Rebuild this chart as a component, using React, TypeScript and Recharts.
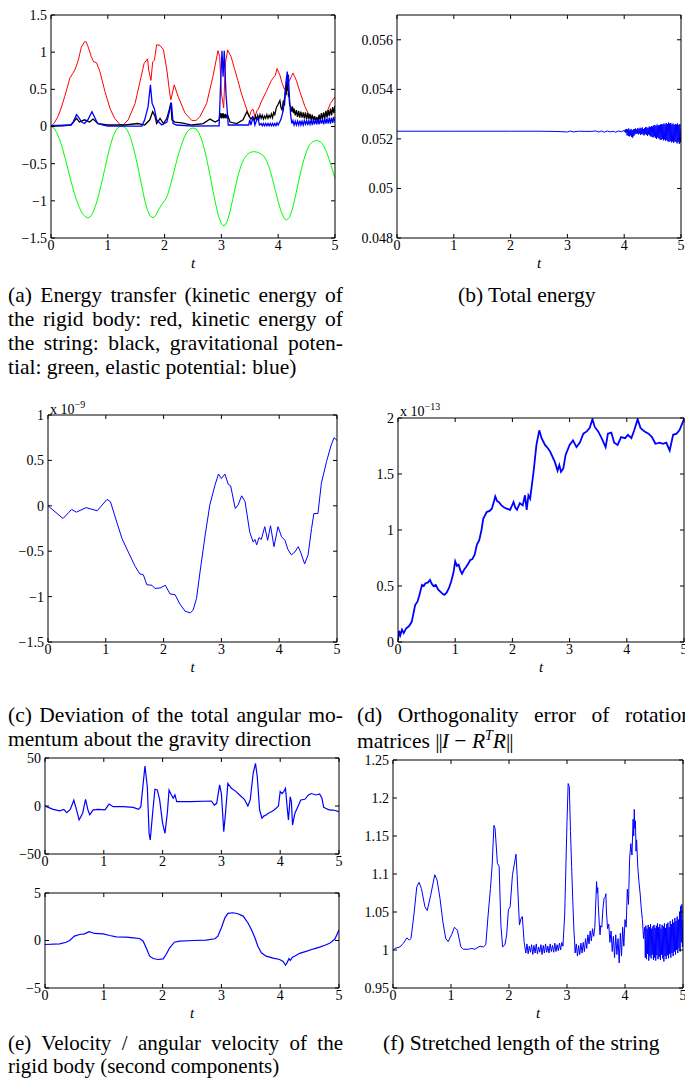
import { LineChart, Line, XAxis, YAxis } from "recharts";

const FONT = "'Liberation Serif', 'Times New Roman', serif";
const BLUE = "#0000ff";

const T_TICKS = [0, 1, 2, 3, 4, 5];

// (a) energy transfer
const aGreenT = [0, 0.05, 0.1, 0.15, 0.2, 0.25, 0.3, 0.35, 0.4, 0.45, 0.5, 0.55, 0.6, 0.65, 0.7, 0.75, 0.8, 0.85, 0.9, 0.95, 1.0, 1.05, 1.1, 1.15, 1.2, 1.25, 1.3, 1.35, 1.4, 1.45, 1.5, 1.55, 1.6, 1.65, 1.7, 1.75, 1.8, 1.85, 1.9, 1.95, 2.0, 2.05, 2.1, 2.15, 2.2, 2.25, 2.3, 2.35, 2.4, 2.45, 2.5, 2.55, 2.6, 2.65, 2.7, 2.75, 2.8, 2.85, 2.9, 2.95, 3.0, 3.05, 3.1, 3.15, 3.2, 3.25, 3.3, 3.35, 3.4, 3.45, 3.5, 3.55, 3.6, 3.65, 3.7, 3.75, 3.8, 3.85, 3.9, 3.95, 4.0, 4.05, 4.1, 4.15, 4.2, 4.25, 4.3, 4.35, 4.4, 4.45, 4.5, 4.55, 4.6, 4.65, 4.7, 4.75, 4.8, 4.85, 4.9, 4.95, 5.0];
const aGreen = [0, -0.02, -0.08, -0.17, -0.29, -0.43, -0.58, -0.73, -0.87, -0.99, -1.09, -1.17, -1.21, -1.23, -1.21, -1.14, -1.03, -0.89, -0.73, -0.56, -0.39, -0.24, -0.12, -0.04, -0.005, 0, -0.01, -0.06, -0.15, -0.28, -0.44, -0.62, -0.81, -0.99, -1.13, -1.21, -1.23, -1.19, -1.11, -1.05, -1.0, -0.93, -0.8, -0.65, -0.5, -0.36, -0.24, -0.14, -0.07, -0.03, -0.02, -0.03, -0.08, -0.17, -0.3, -0.47, -0.66, -0.86, -1.05, -1.21, -1.31, -1.34, -1.28, -1.15, -0.98, -0.8, -0.64, -0.52, -0.43, -0.38, -0.35, -0.34, -0.34, -0.35, -0.37, -0.4, -0.47, -0.57, -0.71, -0.86, -1.01, -1.14, -1.23, -1.26, -1.22, -1.11, -0.95, -0.77, -0.6, -0.45, -0.33, -0.25, -0.21, -0.19, -0.19, -0.21, -0.26, -0.34, -0.45, -0.57, -0.7];

const aRedT = [0, 0.06, 0.12, 0.18, 0.24, 0.3, 0.33, 0.38, 0.42, 0.48, 0.535, 0.59, 0.62, 0.65, 0.71, 0.75, 0.8, 0.86, 0.95, 1.04, 1.12, 1.21, 1.27, 1.36, 1.48, 1.56, 1.64, 1.7, 1.72, 1.76, 1.79, 1.82, 1.86, 1.92, 1.98, 2.04, 2.09, 2.11, 2.17, 2.24, 2.36, 2.48, 2.55, 2.62, 2.74, 2.85, 2.94, 2.97, 3.0, 3.04, 3.07, 3.11, 3.17, 3.23, 3.29, 3.35, 3.41, 3.46, 3.49, 3.53, 3.56, 3.59, 3.63, 3.65, 3.7, 3.79, 3.88, 3.95, 3.98, 4.03, 4.07, 4.11, 4.15, 4.2, 4.26, 4.32, 4.38, 4.47, 4.55, 4.67, 4.76, 4.85, 4.92, 5.0];
const aRed = [0, 0.05, 0.13, 0.25, 0.4, 0.56, 0.65, 0.71, 0.76, 0.89, 1.07, 1.14, 1.14, 1.08, 0.94, 0.87, 0.86, 0.74, 0.47, 0.24, 0.11, 0.03, 0.02, 0.09, 0.31, 0.58, 0.85, 0.91, 0.76, 0.62, 0.87, 0.89, 1.1, 1.09, 1.03, 0.76, 0.45, 0.36, 0.56, 0.4, 0.18, 0.08, 0.08, 0.13, 0.31, 0.67, 1.02, 0.94, 0.45, 0.25, 0.85, 1.03, 0.94, 0.78, 0.62, 0.45, 0.31, 0.2, 0.13, 0.22, 0.23, 0.13, 0.22, 0.23, 0.33, 0.47, 0.62, 0.69, 0.78, 0.69, 0.58, 0.5, 0.55, 0.62, 0.72, 0.62, 0.47, 0.27, 0.14, 0.11, 0.11, 0.18, 0.31, 0.4];

const aBlackT = [0, 0.2, 0.35, 0.45, 0.5, 0.59, 0.68, 0.74, 0.83, 1.0, 1.3, 1.53, 1.65, 1.74, 1.79, 1.83, 1.86, 1.92, 1.98, 2.04, 2.08, 2.11, 2.13, 2.18, 2.3, 2.48, 2.68, 2.8, 2.89, 2.96, 2.97, 2.98, 2.99, 3.0, 3.01, 3.02, 3.03, 3.04, 3.05, 3.06, 3.07, 3.08, 3.09, 3.1, 3.11, 3.12, 3.15, 3.27, 3.38, 3.45, 3.48, 3.52, 3.55, 3.58, 3.6, 3.62, 3.64, 3.66, 3.68, 3.7, 3.72, 3.74, 3.76, 3.78, 3.8, 3.82, 3.84, 3.86, 3.88, 3.9, 3.92, 3.94, 3.97, 4.0, 4.03, 4.05, 4.07, 4.09, 4.11, 4.13, 4.14, 4.15, 4.16, 4.17, 4.18, 4.19, 4.2, 4.22, 4.24, 4.25, 4.27, 4.28, 4.3, 4.32, 4.34, 4.36, 4.38, 4.4, 4.42, 4.44, 4.46, 4.48, 4.5, 4.52, 4.54, 4.56, 4.58, 4.6, 4.62, 4.64, 4.66, 4.68, 4.7, 4.72, 4.74, 4.76, 4.78, 4.8, 4.82, 4.84, 4.86, 4.88, 4.9, 4.92, 4.94, 4.96, 4.98, 5.0];
const aBlack = [0.005, 0.01, 0.02, 0.11, 0.06, 0.09, 0.06, 0.1, 0.04, 0.02, 0.02, 0.04, 0.02, 0.09, 0.2, 0.14, 0.04, 0.11, 0.04, 0.11, 0.22, 0.32, 0.09, 0.06, 0.05, 0.02, 0.04, 0.1, 0.06, 0.09, 0.15, 0.12, 0.18, 0.11, 0.17, 0.12, 0.18, 0.11, 0.16, 0.12, 0.17, 0.11, 0.16, 0.12, 0.15, 0.13, 0.06, 0.04, 0.09, 0.2, 0.15, 0.1, 0.13, 0.08, 0.14, 0.09, 0.15, 0.1, 0.16, 0.11, 0.15, 0.1, 0.14, 0.11, 0.16, 0.11, 0.15, 0.12, 0.17, 0.12, 0.19, 0.16, 0.26, 0.3, 0.35, 0.25, 0.22, 0.35, 0.28, 0.5, 0.42, 0.62, 0.48, 0.6, 0.4, 0.45, 0.3, 0.26, 0.2, 0.27, 0.18, 0.24, 0.15, 0.22, 0.13, 0.21, 0.12, 0.2, 0.12, 0.19, 0.11, 0.19, 0.1, 0.18, 0.1, 0.17, 0.09, 0.16, 0.08, 0.14, 0.07, 0.13, 0.07, 0.16, 0.09, 0.18, 0.1, 0.19, 0.11, 0.21, 0.12, 0.22, 0.14, 0.24, 0.15, 0.26, 0.18, 0.28];

const aBlueT = [0, 0.35, 0.39, 0.45, 0.49, 0.54, 0.59, 0.65, 0.72, 0.77, 0.82, 0.92, 1.0, 1.6, 1.65, 1.71, 1.75, 1.78, 1.82, 1.86, 1.95, 2.04, 2.09, 2.12, 2.15, 2.21, 2.5, 2.96, 2.98, 3.01, 3.03, 3.05, 3.08, 3.12, 3.48, 3.5, 3.52, 3.56, 3.59, 3.64, 3.67, 3.7, 3.72, 3.74, 3.76, 3.78, 3.8, 3.82, 3.84, 3.86, 3.88, 3.9, 3.92, 3.94, 3.96, 3.98, 4.0, 4.02, 4.05, 4.09, 4.12, 4.14, 4.16, 4.17, 4.18, 4.2, 4.22, 4.24, 4.26, 4.28, 4.3, 4.32, 4.34, 4.36, 4.38, 4.4, 4.42, 4.44, 4.46, 4.48, 4.5, 4.52, 4.54, 4.56, 4.58, 4.6, 4.62, 4.64, 4.66, 4.68, 4.7, 4.72, 4.74, 4.76, 4.78, 4.8, 4.82, 4.84, 4.86, 4.88, 4.9, 4.92, 4.94, 4.96, 4.98, 5.0];
const aBlue = [0.01, 0.02, 0.06, 0.16, 0.12, 0.06, 0.04, 0.09, 0.2, 0.12, 0.04, 0.02, 0.005, 0.005, 0.09, 0.27, 0.56, 0.31, 0.24, 0.09, 0.02, 0.06, 0.22, 0.32, 0.04, 0.02, 0.005, 0.01, 0.45, 1.02, 0.67, 1.02, 0.45, 0.02, 0.02, 0.09, 0.02, 0.13, 0.02, 0.13, 0.02, 0.04, 0.01, 0.04, 0.01, 0.04, 0.01, 0.04, 0.01, 0.04, 0.01, 0.04, 0.01, 0.04, 0.01, 0.05, 0.02, 0.05, 0.1, 0.22, 0.45, 0.62, 0.74, 0.55, 0.7, 0.36, 0.15, 0.04, 0.08, 0.02, 0.07, 0.02, 0.07, 0.02, 0.08, 0.02, 0.07, 0.02, 0.08, 0.03, 0.08, 0.02, 0.08, 0.03, 0.09, 0.02, 0.09, 0.03, 0.09, 0.03, 0.1, 0.03, 0.1, 0.04, 0.1, 0.03, 0.11, 0.04, 0.11, 0.04, 0.12, 0.04, 0.12, 0.05, 0.13, 0.06];

// (b) total energy
const bT = [0, 1, 2, 2.5, 2.8, 3.0, 3.05, 3.1, 3.2, 3.4, 3.5, 3.55, 3.6, 3.65, 3.7, 3.75, 3.8, 3.85, 3.9, 3.95, 4.0, 4.01, 4.02, 4.03, 4.04, 4.05, 4.06, 4.07, 4.08, 4.09, 4.1, 4.11, 4.12, 4.13, 4.14, 4.15, 4.16, 4.17, 4.18, 4.19, 4.2, 4.21, 4.22, 4.23, 4.24, 4.25, 4.26, 4.27, 4.28, 4.29, 4.3, 4.31, 4.32, 4.33, 4.34, 4.35, 4.36, 4.37, 4.38, 4.39, 4.4, 4.41, 4.42, 4.43, 4.44, 4.45, 4.46, 4.47, 4.48, 4.49, 4.5, 4.51, 4.52, 4.53, 4.54, 4.55, 4.56, 4.57, 4.58, 4.59, 4.6, 4.61, 4.62, 4.63, 4.64, 4.65, 4.66, 4.67, 4.68, 4.69, 4.7, 4.71, 4.72, 4.73, 4.74, 4.75, 4.76, 4.77, 4.78, 4.79, 4.8, 4.81, 4.82, 4.83, 4.84, 4.85, 4.86, 4.87, 4.88, 4.89, 4.9, 4.91, 4.92, 4.93, 4.94, 4.95, 4.96, 4.97, 4.98, 4.99, 5.0];
const bEnergy = [0.05231, 0.05231, 0.05231, 0.05231, 0.0523, 0.05228, 0.05232, 0.05228, 0.05231, 0.0523, 0.05232, 0.05228, 0.05232, 0.05227, 0.05232, 0.05228, 0.05231, 0.05227, 0.05232, 0.05229, 0.05234, 0.05228, 0.05238, 0.05224, 0.0524, 0.05215, 0.05238, 0.05212, 0.05242, 0.0521, 0.05236, 0.05214, 0.0524, 0.05208, 0.05235, 0.05205, 0.05238, 0.05212, 0.0524, 0.05218, 0.05242, 0.0522, 0.05238, 0.05222, 0.05244, 0.05218, 0.0524, 0.05222, 0.05245, 0.05216, 0.05242, 0.0522, 0.05246, 0.05218, 0.0524, 0.05214, 0.05244, 0.0522, 0.05248, 0.05216, 0.05246, 0.05212, 0.05244, 0.05218, 0.0525, 0.05214, 0.05248, 0.0521, 0.05252, 0.05208, 0.0525, 0.05206, 0.05254, 0.0521, 0.05256, 0.05204, 0.05252, 0.052, 0.05258, 0.05206, 0.05254, 0.05202, 0.05256, 0.05198, 0.05258, 0.05196, 0.0526, 0.052, 0.05258, 0.05194, 0.05262, 0.05198, 0.05258, 0.05192, 0.05264, 0.05196, 0.0526, 0.0519, 0.05266, 0.05188, 0.05262, 0.05192, 0.05264, 0.05186, 0.05258, 0.0519, 0.05262, 0.05184, 0.05256, 0.0519, 0.0526, 0.05188, 0.05258, 0.05182, 0.05262, 0.05188, 0.05256, 0.0518, 0.0526, 0.05186, 0.0524];

// (c) angular momentum deviation, x 1e-9
const cT = [0, 0.26, 0.41, 0.49, 0.66, 0.85, 1.02, 1.08, 1.19, 1.28, 1.39, 1.51, 1.59, 1.65, 1.71, 1.8, 1.85, 1.94, 2.03, 2.11, 2.2, 2.28, 2.37, 2.46, 2.51, 2.57, 2.63, 2.72, 2.8, 2.89, 2.95, 3.0, 3.06, 3.12, 3.16, 3.24, 3.29, 3.35, 3.41, 3.49, 3.55, 3.58, 3.61, 3.65, 3.69, 3.75, 3.8, 3.85, 3.91, 3.98, 4.04, 4.1, 4.15, 4.21, 4.27, 4.33, 4.37, 4.44, 4.5, 4.56, 4.6, 4.67, 4.73, 4.82, 4.9, 4.95, 5.0];
const cMomentum = [0, -0.14, -0.04, -0.07, -0.02, -0.055, 0.07, 0.045, -0.18, -0.36, -0.51, -0.67, -0.75, -0.76, -0.87, -0.875, -0.91, -0.905, -0.875, -0.97, -0.98, -1.08, -1.16, -1.18, -1.15, -1.02, -0.73, -0.32, 0.01, 0.23, 0.35, 0.3, 0.35, 0.235, 0.22, -0.03, 0.01, 0.11, 0.045, -0.29, -0.4, -0.37, -0.43, -0.35, -0.37, -0.23, -0.38, -0.22, -0.45, -0.23, -0.34, -0.38, -0.48, -0.54, -0.51, -0.45, -0.51, -0.64, -0.54, -0.25, -0.085, -0.085, 0.25, 0.49, 0.67, 0.75, 0.72];

// (d) orthogonality error, x 1e-13
const dT = [0, 0.02, 0.04, 0.07, 0.1, 0.14, 0.19, 0.24, 0.3, 0.34, 0.37, 0.42, 0.45, 0.48, 0.52, 0.56, 0.59, 0.62, 0.66, 0.7, 0.74, 0.78, 0.81, 0.85, 0.89, 0.93, 0.97, 1.0, 1.03, 1.06, 1.09, 1.12, 1.16, 1.19, 1.23, 1.26, 1.3, 1.34, 1.38, 1.42, 1.46, 1.49, 1.55, 1.6, 1.64, 1.67, 1.7, 1.73, 1.76, 1.81, 1.86, 1.9, 1.96, 2.02, 2.05, 2.08, 2.13, 2.18, 2.22, 2.25, 2.28, 2.31, 2.37, 2.42, 2.47, 2.51, 2.57, 2.62, 2.66, 2.74, 2.79, 2.82, 2.85, 2.89, 2.93, 3.0, 3.06, 3.12, 3.18, 3.24, 3.3, 3.35, 3.4, 3.44, 3.5, 3.56, 3.63, 3.67, 3.73, 3.78, 3.84, 3.9, 3.97, 4.02, 4.08, 4.13, 4.19, 4.24, 4.31, 4.38, 4.44, 4.5, 4.58, 4.63, 4.69, 4.75, 4.81, 4.87, 4.92, 5.0];
const dOrtho = [0.02, 0.1, 0.06, 0.11, 0.08, 0.12, 0.14, 0.18, 0.33, 0.36, 0.41, 0.51, 0.5, 0.525, 0.53, 0.555, 0.52, 0.5, 0.51, 0.47, 0.45, 0.43, 0.42, 0.44, 0.48, 0.54, 0.62, 0.72, 0.68, 0.69, 0.64, 0.61, 0.65, 0.67, 0.7, 0.73, 0.74, 0.78, 0.87, 0.91, 1.0, 1.1, 1.16, 1.17, 1.19, 1.24, 1.3, 1.26, 1.25, 1.22, 1.2, 1.19, 1.18, 1.25, 1.2, 1.18, 1.24, 1.22, 1.31, 1.18, 1.31, 1.28, 1.52, 1.76, 1.89, 1.82, 1.76, 1.73, 1.7, 1.61, 1.53, 1.58, 1.52, 1.55, 1.67, 1.76, 1.8, 1.74, 1.78, 1.86, 1.88, 1.91, 1.99, 1.92, 1.88, 1.82, 1.74, 1.86, 1.87, 1.78, 1.76, 1.83, 1.82, 1.85, 1.82, 1.89, 1.99, 1.91, 1.88, 1.86, 1.83, 1.77, 1.78, 1.77, 1.78, 1.71, 1.85, 1.86, 1.89, 1.99];

// (e) velocity (top) and angular velocity (bottom)
const eVelT = [0, 0.14, 0.25, 0.32, 0.37, 0.43, 0.49, 0.53, 0.58, 0.64, 0.69, 0.73, 0.76, 0.82, 0.9, 1.02, 1.09, 1.16, 1.33, 1.5, 1.59, 1.63, 1.67, 1.7, 1.74, 1.77, 1.79, 1.83, 1.87, 1.91, 1.95, 2.0, 2.04, 2.08, 2.11, 2.15, 2.18, 2.21, 2.24, 2.47, 2.83, 2.88, 2.92, 2.97, 3.0, 3.04, 3.07, 3.11, 3.17, 3.25, 3.31, 3.39, 3.45, 3.49, 3.54, 3.58, 3.61, 3.65, 3.69, 3.72, 3.76, 3.8, 3.85, 3.89, 3.93, 3.97, 4.0, 4.03, 4.06, 4.09, 4.12, 4.14, 4.17, 4.19, 4.21, 4.25, 4.3, 4.35, 4.42, 4.48, 4.53, 4.61, 4.67, 4.71, 4.74, 4.78, 4.81, 4.86, 4.9, 4.95, 5.0];
const eVel = [0, -3.5, -5, -3.5, -7, -3.5, 6, -2.5, -14.5, -7.5, 7, -4, -9, -4, -3.5, -4, 2, -0.7, -0.7, -1.4, -3.5, -0.7, 23.6, 41.7, 20, -28.5, -35.4, -7.6, 17.4, 16.7, 6.3, -18, -28.5, -7.6, 16.7, 11.5, 8, 11.5, 4.5, 4.5, 5.2, 1, 2.8, 22, 13, -26.7, -7.6, 23.6, 18.4, 15, 11.5, 7, 0, 6.3, 34, 44.4, 30.5, -4.2, -12.8, -10.5, -9.4, -7.5, -5.9, -4.5, -2.4, 0, 15, 13, 15, 18.4, -2.4, -14.6, 9.7, 4.5, -19.8, -7.6, -0.7, 6.3, 7, 11.5, 13, 11.5, 12.5, 8, -1.4, -2.6, -3.5, -4.2, -4.2, -4.9, -5.9];

const eAngT = [0, 0.25, 0.36, 0.42, 0.5, 0.59, 0.67, 0.75, 0.84, 0.99, 1.1, 1.21, 1.38, 1.5, 1.61, 1.67, 1.72, 1.78, 1.84, 1.92, 2.01, 2.06, 2.12, 2.2, 2.29, 2.52, 2.74, 2.89, 2.94, 3.0, 3.06, 3.11, 3.2, 3.28, 3.37, 3.45, 3.51, 3.57, 3.62, 3.68, 3.76, 3.88, 3.99, 4.05, 4.09, 4.12, 4.15, 4.17, 4.21, 4.26, 4.33, 4.44, 4.56, 4.67, 4.76, 4.84, 4.93, 5.0];
const eAng = [-0.42, -0.35, -0.18, 0, 0.46, 0.63, 0.7, 0.92, 0.74, 0.7, 0.53, 0.39, 0.35, 0.28, 0.21, -0.07, -0.77, -1.65, -1.9, -2.0, -1.94, -1.48, -0.77, -0.18, -0.07, 0, 0.04, 0.18, 0.46, 1.34, 2.39, 2.85, 2.92, 2.82, 2.57, 1.87, 1.16, 0.28, -0.6, -1.3, -1.65, -1.85, -2.0, -2.2, -2.6, -2.3, -1.9, -2.1, -1.75, -1.6, -1.35, -1.15, -0.9, -0.7, -0.5, -0.3, 0.15, 1.1];

// (f) stretched length of the string
const fT = [0, 0.03, 0.12, 0.18, 0.24, 0.28, 0.31, 0.36, 0.41, 0.45, 0.49, 0.55, 0.59, 0.65, 0.72, 0.76, 0.81, 0.86, 0.91, 0.95, 1.01, 1.06, 1.11, 1.17, 1.21, 1.3, 1.36, 1.41, 1.5, 1.56, 1.6, 1.64, 1.68, 1.71, 1.74, 1.76, 1.8, 1.83, 1.86, 1.89, 1.93, 1.96, 1.99, 2.02, 2.06, 2.09, 2.12, 2.14, 2.18, 2.21, 2.23, 2.26, 2.27, 2.29, 2.31, 2.33, 2.35, 2.37, 2.39, 2.41, 2.43, 2.45, 2.47, 2.49, 2.51, 2.53, 2.55, 2.57, 2.59, 2.61, 2.63, 2.65, 2.67, 2.69, 2.71, 2.73, 2.75, 2.77, 2.79, 2.81, 2.83, 2.85, 2.87, 2.89, 2.91, 2.93, 2.96, 3.0, 3.02, 3.04, 3.06, 3.08, 3.1, 3.12, 3.13, 3.14, 3.16, 3.18, 3.2, 3.22, 3.24, 3.26, 3.28, 3.3, 3.32, 3.34, 3.36, 3.38, 3.4, 3.42, 3.44, 3.46, 3.48, 3.5, 3.51, 3.52, 3.53, 3.54, 3.56, 3.57, 3.58, 3.6, 3.62, 3.64, 3.66, 3.67, 3.68, 3.7, 3.72, 3.74, 3.76, 3.78, 3.8, 3.82, 3.84, 3.86, 3.88, 3.9, 3.92, 3.94, 3.96, 3.98, 4.0, 4.02, 4.04, 4.06, 4.08, 4.1, 4.12, 4.14, 4.15, 4.16, 4.17, 4.18, 4.19, 4.2, 4.22, 4.24, 4.26, 4.28, 4.3, 4.32, 4.34, 4.35, 4.36, 4.37, 4.38, 4.39, 4.4, 4.41, 4.42, 4.43, 4.44, 4.45, 4.46, 4.47, 4.48, 4.49, 4.5, 4.51, 4.52, 4.53, 4.54, 4.55, 4.56, 4.57, 4.58, 4.59, 4.6, 4.61, 4.62, 4.63, 4.64, 4.65, 4.66, 4.67, 4.68, 4.69, 4.7, 4.71, 4.72, 4.73, 4.74, 4.75, 4.76, 4.77, 4.78, 4.79, 4.8, 4.81, 4.82, 4.83, 4.84, 4.85, 4.86, 4.87, 4.88, 4.89, 4.9, 4.91, 4.92, 4.93, 4.94, 4.95, 4.96, 4.97, 4.98, 4.99, 5.0];
const fLength = [0.999, 1.002, 1.004, 1.009, 1.016, 1.013, 1.015, 1.046, 1.083, 1.089, 1.081, 1.057, 1.052, 1.072, 1.099, 1.092, 1.068, 1.037, 1.015, 1.011, 1.02, 1.03, 1.026, 1.004, 1.001, 1.001, 1.002, 1.001, 1.005, 1.004, 1.007, 1.046, 1.081, 1.112, 1.164, 1.16, 1.114, 1.11, 1.033, 1.004, 1.007, 1.02, 1.053, 1.057, 1.099, 1.112, 1.126, 1.099, 1.033, 1.042, 1.044, 1.011, 1.006, 0.996, 1.008, 0.995, 1.005, 0.997, 1.007, 0.994, 1.006, 0.996, 1.008, 0.995, 1.004, 0.997, 1.007, 0.994, 1.006, 0.996, 1.008, 0.997, 1.005, 0.996, 1.008, 0.998, 1.006, 0.997, 1.009, 0.998, 1.007, 0.999, 1.009, 1.0, 1.01, 1.005, 1.046, 1.169, 1.219, 1.215, 1.156, 1.11, 1.064, 1.025, 1.012, 0.996, 1.008, 0.992, 1.006, 0.994, 1.009, 0.996, 1.01, 0.998, 1.015, 1.002, 1.02, 1.008, 1.025, 1.012, 1.028, 1.018, 1.03, 1.07, 1.09, 1.075, 1.082, 1.058, 1.03, 1.02, 1.032, 1.03, 1.055, 1.068, 1.07, 1.074, 1.05, 1.028, 1.034, 1.01, 1.025, 0.998, 1.018, 0.99, 1.02, 0.994, 1.015, 0.983, 1.022, 0.992, 1.03, 1.005, 1.04, 1.03, 1.08, 1.06, 1.12, 1.14, 1.125, 1.172, 1.15, 1.185, 1.16, 1.17, 1.13, 1.145, 1.11, 1.09, 1.075, 1.055, 1.04, 1.015, 1.03, 0.99, 1.032, 0.988, 1.028, 0.995, 1.033, 0.986, 1.03, 0.992, 1.034, 0.989, 1.028, 0.994, 1.031, 0.987, 1.033, 0.99, 1.029, 0.986, 1.032, 0.993, 1.035, 0.988, 1.03, 0.991, 1.034, 0.987, 1.028, 0.994, 1.033, 0.989, 1.031, 0.985, 1.035, 0.992, 1.029, 0.988, 1.034, 0.993, 1.036, 0.989, 1.03, 0.995, 1.038, 0.99, 1.034, 0.996, 1.04, 0.992, 1.036, 0.998, 1.042, 0.994, 1.038, 1.0, 1.044, 0.996, 1.04, 1.002, 1.05, 0.998, 1.058, 1.01, 1.06, 1.004, 1.04];

type Pt = { t: number; v: number };
const zip = (ts: number[], vs: number[]): Pt[] => ts.map((t, i) => ({ t, v: vs[i] }));

type Series = { data: Pt[]; color: string; width?: number };

const fmt = (v: number) => String(v).replace("-", "\u2212");
const blank = () => "";
const tickStyle = { fill: "#000", fontSize: 14, fontFamily: FONT };

// chart margins round the plot box
const YW = 60, TM = 10, RM = 10, XH = 40;

function Panel({ left, top, w, h, yDomain, yTicks, series, showT = true }: {
  left: number; top: number; w: number; h: number;
  yDomain: [number, number]; yTicks: number[]; series: Series[]; showT?: boolean;
}) {
  return (
    <div style={{ position: "absolute", left: left - YW, top: top - TM, fontFamily: FONT }}>
      <LineChart width={w + YW + RM} height={h + TM + XH} margin={{ top: TM - 1, right: RM - 1, left: 0, bottom: 0 }}>
        <XAxis
          xAxisId="b" dataKey="t" type="number" domain={[0, 5]} ticks={T_TICKS} allowDataOverflow
          height={XH} stroke="#000" tickSize={-4} tickMargin={6} tick={tickStyle} interval={0}
          label={showT ? { value: "t", position: "insideBottom", offset: 10, style: { fontStyle: "italic", fontFamily: FONT, fontSize: 15, fill: "#000" } } : undefined}
        />
        <XAxis
          xAxisId="top" dataKey="t" orientation="top" type="number" domain={[0, 5]} ticks={T_TICKS} allowDataOverflow
          height={1} stroke="#000" tickSize={-4} tickFormatter={blank} interval={0}
        />
        <YAxis
          yAxisId="l" type="number" domain={yDomain} ticks={yTicks} allowDataOverflow width={YW}
          stroke="#000" tickSize={-4} tickMargin={8} tick={tickStyle} tickFormatter={fmt} interval={0}
        />
        <YAxis
          yAxisId="r" orientation="right" type="number" domain={yDomain} ticks={yTicks} allowDataOverflow width={1}
          stroke="#000" tickSize={-4} tickFormatter={blank} interval={0}
        />
        <Line
          xAxisId="top" yAxisId="r" data={series[0].data} dataKey="v" stroke="none"
          dot={false} activeDot={false} isAnimationActive={false} legendType="none"
        />
        {series.map((s, i) => (
          <Line
            key={i} xAxisId="b" yAxisId="l" data={s.data} dataKey="v" type="linear"
            stroke={s.color} strokeWidth={s.width ?? 1} dot={false} isAnimationActive={false}
          />
        ))}
      </LineChart>
    </div>
  );
}

const cap = { position: "absolute" as const, fontFamily: FONT, fontSize: 21.5, lineHeight: "24px", color: "#000", whiteSpace: "nowrap" as const };
const just = { ...cap, width: 335, textAlign: "justify" as const, textAlignLast: "justify" as const, whiteSpace: "normal" as const };
const bars = { letterSpacing: -1 };

export default function App() {
  return (
    <div style={{ position: "absolute", left: 0, top: 0, width: 685, height: 1078, overflow: "hidden", background: "#fff" }}>
      <Panel left={51} top={15} w={284} h={223} yDomain={[-1.5, 1.5]} yTicks={[-1.5, -1, -0.5, 0, 0.5, 1, 1.5]}
        series={[
          { data: zip(aRedT, aRed), color: "#ff0000" },
          { data: zip(aGreenT, aGreen), color: "#00ff00" },
          { data: zip(aBlackT, aBlack), color: "#000000", width: 1.3 },
          { data: zip(aBlueT, aBlue), color: BLUE, width: 1.3 },
        ]} />
      <Panel left={397} top={15} w={284} h={223} yDomain={[0.048, 0.057]} yTicks={[0.048, 0.05, 0.052, 0.054, 0.056]}
        series={[{ data: zip(bT, bEnergy), color: BLUE }]} />
      <Panel left={48} top={415} w={289} h={227} yDomain={[-1.5, 1]} yTicks={[-1.5, -1, -0.5, 0, 0.5, 1]}
        series={[{ data: zip(cT, cMomentum), color: BLUE }]} />
      <Panel left={398} top={418} w={286} h={224} yDomain={[0, 2]} yTicks={[0, 0.5, 1, 1.5, 2]}
        series={[{ data: zip(dT, dOrtho), color: BLUE, width: 1.8 }]} />
      <Panel left={45} top={758} w={294} h={96} yDomain={[-50, 50]} yTicks={[-50, 0, 50]} showT={false}
        series={[{ data: zip(eVelT, eVel), color: BLUE, width: 1.2 }]} />
      <Panel left={45} top={893} w={294} h={95} yDomain={[-5, 5]} yTicks={[-5, 0, 5]}
        series={[{ data: zip(eAngT, eAng), color: BLUE, width: 1.2 }]} />
      <Panel left={393} top={760} w={290} h={228} yDomain={[0.95, 1.25]} yTicks={[0.95, 1, 1.05, 1.1, 1.15, 1.2, 1.25]}
        series={[{ data: zip(fT, fLength), color: BLUE }]} />

      <div style={{ position: "absolute", left: 50, top: 399, fontFamily: FONT, fontSize: 14 }}>
        x 10<sup style={{ fontSize: 10 }}>{"\u22129"}</sup>
      </div>
      <div style={{ position: "absolute", left: 400, top: 401, fontFamily: FONT, fontSize: 14 }}>
        x 10<sup style={{ fontSize: 10 }}>{"\u221213"}</sup>
      </div>

      <div style={{ ...just, left: 8, top: 283 }}>(a) Energy transfer (kinetic energy of</div>
      <div style={{ ...just, left: 8, top: 307 }}>the rigid body: red, kinetic energy of</div>
      <div style={{ ...just, left: 8, top: 331 }}>the string: black, gravitational poten-</div>
      <div style={{ ...cap, left: 8, top: 355 }}>tial: green, elastic potential: blue)</div>
      <div style={{ ...cap, left: 458, top: 283 }}>(b) Total energy</div>

      <div style={{ ...just, left: 8, top: 703 }}>(c) Deviation of the total angular mo-</div>
      <div style={{ ...cap, left: 8, top: 727 }}>mentum about the gravity direction</div>
      <div style={{ ...just, left: 357, top: 703 }}>(d) Orthogonality error of rotation</div>
      <div style={{ ...cap, left: 357, top: 729 }}>
        matrices <span style={bars}>||</span><i>I</i> &minus; <i>R</i>
        <sup style={{ fontSize: 14, lineHeight: 0 }}><i>T</i></sup>
        <i>R</i><span style={bars}>||</span>
      </div>

      <div style={{ ...just, left: 8, top: 1031.5, lineHeight: "22px", fontSize: 21 }}>(e) Velocity / angular velocity of the</div>
      <div style={{ ...cap, left: 8, top: 1057, lineHeight: "18px", fontSize: 21 }}>rigid body (second components)</div>
      <div style={{ ...cap, left: 383, top: 1031.5, lineHeight: "22px" }}>(f) Stretched length of the string</div>
    </div>
  );
}
